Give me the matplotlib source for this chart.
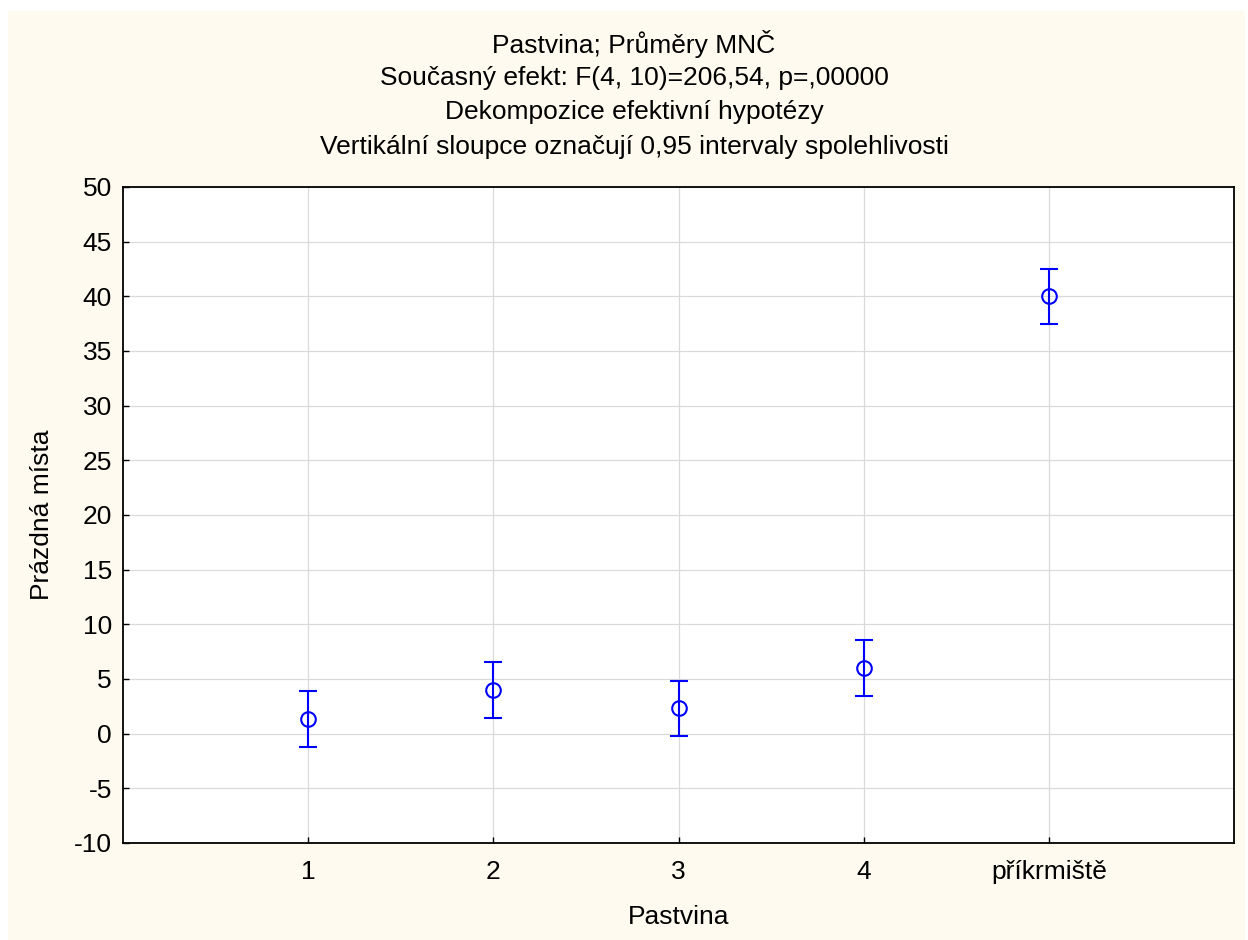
import matplotlib
matplotlib.use("Agg")
import matplotlib.pyplot as plt
from matplotlib.patches import Rectangle

categories = ["1", "2", "3", "4", "příkrmiště"]
means = [1.33, 4.0, 2.33, 6.0, 40.0]
ci_half = [2.53, 2.53, 2.53, 2.53, 2.53]
yticks = [-10, -5, 0, 5, 10, 15, 20, 25, 30, 35, 40, 45, 50]

plt.rcParams['font.family'] = ['Liberation Sans', 'DejaVu Sans']

fig = plt.figure(figsize=(12.48, 9.4), dpi=100)
fig.patch.set_facecolor('white')
fig.patches.append(Rectangle((8/1248, 0), (1245-8)/1248, (940-11)/940,
                             transform=fig.transFigure, facecolor='#FFFAF0',
                             edgecolor='none', zorder=-10))

ax = fig.add_axes([123/1248, 97/940, 1111/1248, 656/940])
ax.set_facecolor('white')
x = list(range(1, len(categories) + 1))
ax.errorbar(x, means, yerr=ci_half, fmt='o', color='#0000FF', mfc='none',
            mec='#0000FF', ms=10.5, mew=1.5, elinewidth=1.5, capsize=6.8,
            capthick=1.5, zorder=3)
ax.set_xlim(0, 6)
ax.set_ylim(-10, 50)
ax.set_xticks(x)
ax.set_xticklabels(categories)
ax.set_yticks(yticks)
ax.set_yticklabels([str(v) for v in yticks])
ax.grid(True, color='#DADADA', linewidth=0.9)
ax.set_axisbelow(True)
ax.tick_params(direction='in', length=4, width=1, labelsize=19)
ax.tick_params(axis='x', pad=12)
ax.tick_params(axis='y', pad=8)
for s in ax.spines.values():
    s.set_linewidth(1.3)
    s.set_color('black')
ax.set_xlabel('Pastvina', fontsize=19, labelpad=15)
ax.set_ylabel('Prázdná místa', fontsize=19, labelpad=14)

titles = ["Pastvina; Průměry MNČ",
          "Současný efekt: F(4, 10)=206,54, p=,00000",
          "Dekompozice efektivní hypotézy",
          "Vertikální sloupce označují 0,95 intervaly spolehlivosti"]
ys = [44, 78, 112, 147]
for t, yy in zip(titles, ys):
    fig.text(634/1248, 1 - yy/940, t, ha='center', va='center', fontsize=19)

fig.savefig('out.png', dpi=100, facecolor=fig.get_facecolor())
